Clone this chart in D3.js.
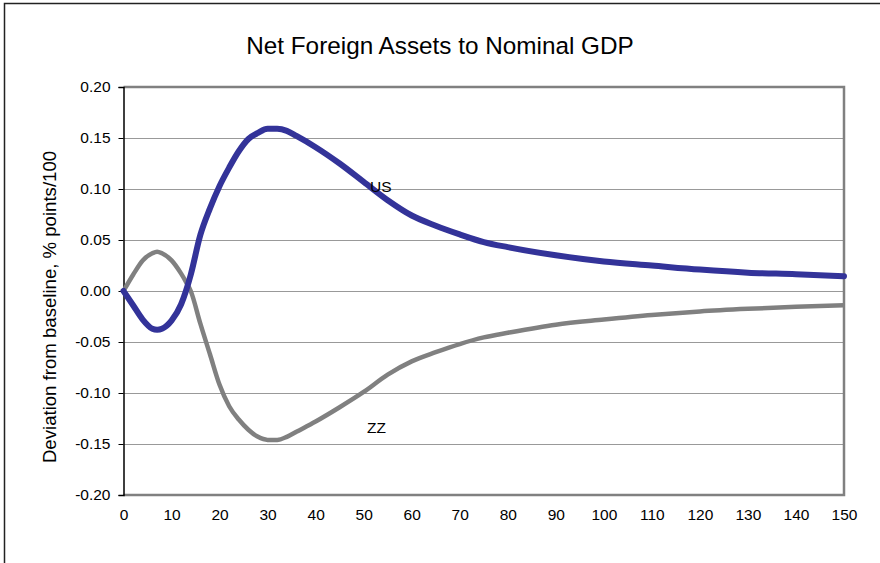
<!DOCTYPE html>
<head>
  <meta charset="utf-8" />
  <script src="https://d3js.org/d3.v7.min.js"></script>
  <style>
    body {
      margin: 0;
      background: #fff;
    }
    text {
      font-family: "Liberation Sans", Arial, sans-serif;
      fill: #000;
    }
    .grid line {
      stroke: #999;
      stroke-width: 1px;
    }
  </style>
</head>

<body>
  <script>
    // periods (x) and the two series
    var periods = [0, 2, 4, 6, 7, 8, 10, 12, 13, 14, 16, 18, 20, 22, 24, 26, 28, 30, 32, 34, 36,
      40, 45, 50, 55, 60, 65, 70, 75, 80, 90, 100, 110, 120, 130, 140, 150];
    var usValues = [0, -0.014, -0.028, -0.037, -0.038, -0.037, -0.029, -0.013, 0, 0.016, 0.055, 0.081,
      0.103, 0.121, 0.137, 0.149, 0.155, 0.159, 0.159, 0.157, 0.152,
      0.141, 0.125, 0.107, 0.089, 0.074, 0.064, 0.0555, 0.048, 0.043, 0.035, 0.029, 0.025, 0.021, 0.018, 0.0165, 0.0145];
    var zzValues = [0, 0.016, 0.030, 0.037, 0.0385, 0.037, 0.030, 0.017, 0.009, 0.000, -0.032, -0.062,
      -0.092, -0.113, -0.126, -0.136, -0.143, -0.146, -0.146, -0.143, -0.138,
      -0.128, -0.114, -0.099, -0.082, -0.069, -0.060, -0.052, -0.0455, -0.041, -0.033, -0.028, -0.0235, -0.020, -0.0175, -0.0155, -0.014];
    var yTicks = [-0.20, -0.15, -0.10, -0.05, 0, 0.05, 0.10, 0.15, 0.20];
    var xTicks = [0, 10, 20, 30, 40, 50, 60, 70, 80, 90, 100, 110, 120, 130, 140, 150];

    var width = 880,
      height = 563;
    // plot area edges (window.top is reserved, so no "top" here)
    var plotLeft = 123.5, plotRight = 844, plotTop = 87, plotBottom = 495;

    var svg = d3.select("body").append("svg")
      .attr("width", width)
      .attr("height", height);

    // outer chart frame
    svg.append("rect")
      .attr("x", 4.5).attr("y", 3.5)
      .attr("width", width + 10).attr("height", height + 10)
      .attr("fill", "#fff")
      .attr("stroke", "#222")
      .attr("stroke-width", 1.5);

    var x = d3.scaleLinear().domain([0, 150]).range([plotLeft, plotRight]);
    var y = d3.scaleLinear().domain([-0.20, 0.20]).range([plotBottom, plotTop]);

    // gridlines
    svg.append("g").attr("class", "grid")
      .selectAll("line")
      .data(yTicks.slice(1, -1))
      .join("line")
      .attr("x1", plotLeft).attr("x2", plotRight)
      .attr("y1", d => Math.round(y(d)) + 0.5)
      .attr("y2", d => Math.round(y(d)) + 0.5);

    // plot border (top, right, bottom)
    svg.append("path")
      .attr("d", "M" + plotLeft + "," + plotTop + "H" + plotRight + "V" + plotBottom + "H" + plotLeft)
      .attr("fill", "none")
      .attr("stroke", "#808080")
      .attr("stroke-width", 2.5);

    // y axis
    var yAxis = svg.append("g")
      .attr("transform", "translate(" + plotLeft + ",0)")
      .call(d3.axisLeft(y).tickValues(yTicks).tickSize(5).tickPadding(8)
        .tickFormat(d => d.toFixed(2)));
    yAxis.select(".domain").attr("stroke", "#000").attr("stroke-width", 1.5);
    yAxis.selectAll(".tick line").attr("stroke", "#000");
    yAxis.selectAll("text")
      .style("font-size", "15.5px")
      .style("font-family", "'Liberation Sans', Arial, sans-serif");

    // x axis (labels only)
    var xAxis = svg.append("g")
      .attr("transform", "translate(0," + plotBottom + ")")
      .call(d3.axisBottom(x).tickValues(xTicks).tickSize(0).tickPadding(14));
    xAxis.select(".domain").remove();
    xAxis.selectAll("text")
      .style("font-size", "15.5px")
      .style("font-family", "'Liberation Sans', Arial, sans-serif");

    var line = d3.line()
      .x((d, i) => x(periods[i]))
      .y(d => y(d))
      .curve(d3.curveMonotoneX);

    svg.append("path")
      .datum(zzValues)
      .attr("d", line)
      .attr("fill", "none")
      .attr("stroke", "#808080")
      .attr("stroke-width", 4.5)
      .attr("stroke-linejoin", "round");

    svg.append("path")
      .datum(usValues)
      .attr("d", line)
      .attr("fill", "none")
      .attr("stroke", "#333399")
      .attr("stroke-width", 6)
      .attr("stroke-linejoin", "round")
      .attr("stroke-linecap", "round");

    // series labels
    svg.append("text").attr("x", 370).attr("y", 192)
      .style("font-size", "15.5px").text("US");
    svg.append("text").attr("x", 367).attr("y", 433)
      .style("font-size", "15.5px").text("ZZ");

    // title
    svg.append("text")
      .attr("x", 440).attr("y", 54)
      .attr("text-anchor", "middle")
      .style("font-size", "24.3px")
      .text("Net Foreign Assets to Nominal GDP");

    // y axis title
    svg.append("text")
      .attr("transform", "translate(56,307) rotate(-90)")
      .attr("text-anchor", "middle")
      .style("font-size", "18.6px")
      .text("Deviation from baseline, % points/100");
  </script>
</body>
